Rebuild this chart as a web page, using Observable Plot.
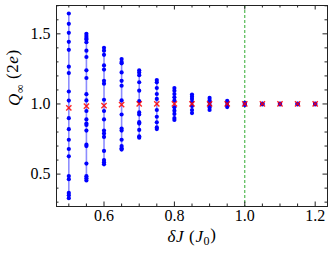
<!DOCTYPE html>
<html><head><meta charset="utf-8">
<script src="https://cdn.jsdelivr.net/npm/d3@7"></script>
<script src="https://cdn.jsdelivr.net/npm/@observablehq/plot@0.6"></script>
<style>body{margin:0;background:#fff}</style>
</head><body><div id="chart"></div>
<script>
// ---- data ----
const deltaJ = [0.5, 0.55, 0.6, 0.65, 0.7, 0.75, 0.8, 0.85, 0.9, 0.95, 1.0, 1.05, 1.1, 1.15, 1.2];
const q050 = [1.645, 1.571, 1.507, 1.443, 1.386, 1.266, 1.22, 1.089, 1.024, 0.899, 0.82, 0.745, 0.679, 0.627, 0.486, 0.464, 0.366, 0.349, 0.328];
const q055 = [1.50, 1.485, 1.47, 1.46, 1.44, 1.38, 1.335, 1.24, 1.185, 1.07, 1.025, 0.95, 0.89, 0.86, 0.85, 0.81, 0.71, 0.70, 0.575, 0.485, 0.47, 0.455];
const q060 = [1.40, 1.38, 1.35, 1.275, 1.245, 1.165, 1.145, 1.03, 0.95, 0.89, 0.81, 0.79, 0.765, 0.665, 0.60, 0.585, 0.57];
const q065 = [1.32, 1.30, 1.29, 1.225, 1.165, 1.13, 1.025, 0.925, 0.825, 0.81, 0.745, 0.70, 0.685, 0.675];
const q070 = [1.24, 1.225, 1.205, 1.155, 1.095, 1.02, 0.94, 0.925, 0.87, 0.86, 0.815, 0.77, 0.76];
const q075 = [1.171, 1.154, 1.114, 1.071, 1.036, 0.957, 0.909, 0.869, 0.833, 0.821];
const q080 = [1.114, 1.095, 1.071, 1.048, 1.024, 0.976, 0.952, 0.929, 0.90, 0.886];
const q085 = [1.067, 1.052, 1.036, 1.015, 0.985, 0.957, 0.935];
const q090 = [1.043, 1.025, 1.01, 0.99, 0.975, 0.957];
const q095 = [1.022, 1.01, 0.99, 0.978];
const q100 = [1.008, 1.0, 0.992];
const q105 = [1.003, 1.0, 0.997];
const q110 = [1.003, 1.0, 0.997];
const q115 = [1.003, 1.0, 0.997];
const q120 = [1.003, 1.0, 0.997];
const qColumns = [q050, q055, q060, q065, q070, q075, q080, q085, q090, q095, q100, q105, q110, q115, q120];
const qMean = [0.972, 0.984, 0.989, 0.995, 1.0, 1.0, 1.0, 1.0, 1.0, 1.0, 1.0, 1.0, 1.0, 1.0, 1.0];
const criticalJ = [1.0];

const xMajor = [0.6, 0.8, 1.0, 1.2];
const xMinor = [0.5, 0.55, 0.65, 0.7, 0.75, 0.85, 0.9, 0.95, 1.05, 1.1, 1.15];
const yMajor = [0.5, 1.0, 1.5];
const yMinor = [0.3, 0.4, 0.6, 0.7, 0.8, 0.9, 1.1, 1.2, 1.3, 1.4, 1.6, 1.7];
const xTitle = ["δJ (J0)"];
const yTitle = ["Q∞ (2e)"];

// ---- tables built from the arrays ----
const points = qColumns.flatMap((col, i) => col.map(q => ({x: deltaJ[i], q})));
const means = deltaJ.map((x, i) => ({x, q: qMean[i]}));

const W = 332, H = 257, mL = 56, mR = 5, mT = 5, mB = 51;
const plotW = W - mL - mR, plotH = H - mT - mB;
const maj = 4.5, mnr = 2.5, ink = "#222";
const serif = "Liberation Serif";
const fmt = d3.format(".1f");

const chart = Plot.plot({
  width: W, height: H,
  marginLeft: mL, marginRight: mR, marginTop: mT, marginBottom: mB,
  style: {background: "#fff", color: "#000"},
  x: {domain: [0.465, 1.235], axis: null},
  y: {domain: [0.269, 1.702], axis: null},
  marks: [
    Plot.ruleX(criticalJ, {x: d => d, stroke: "#17a017", strokeWidth: 0.9, strokeDasharray: "3,2"}),
    Plot.line(points, {x: "x", y: "q", z: "x", stroke: "#0000ff", strokeOpacity: 0.45, strokeWidth: 1.6}),
    Plot.dot(points, {x: "x", y: "q", r: 2.1, fill: "#0000ff"}),
    Plot.dot(means, {x: "x", y: "q", symbol: "times", r: 2.5, stroke: "#ff0000", strokeOpacity: 0.85, strokeWidth: 1.4}),
    // inward ticks on all four sides
    Plot.tickX(xMajor, {x: d => d, insetTop: plotH - maj, stroke: ink}),
    Plot.tickX(xMajor, {x: d => d, insetBottom: plotH - maj, stroke: ink}),
    Plot.tickX(xMinor, {x: d => d, insetTop: plotH - mnr, stroke: ink}),
    Plot.tickX(xMinor, {x: d => d, insetBottom: plotH - mnr, stroke: ink}),
    Plot.tickY(yMajor, {y: d => d, insetRight: plotW - maj, stroke: ink}),
    Plot.tickY(yMajor, {y: d => d, insetLeft: plotW - maj, stroke: ink}),
    Plot.tickY(yMinor, {y: d => d, insetRight: plotW - mnr, stroke: ink}),
    Plot.tickY(yMinor, {y: d => d, insetLeft: plotW - mnr, stroke: ink}),
    // tick labels
    Plot.text(xMajor, {x: d => d, frameAnchor: "bottom", dy: 14.5, text: fmt,
      fontFamily: serif, fontSize: 16, fill: "#000"}),
    Plot.text(yMajor, {y: d => d, frameAnchor: "left", dx: -6, textAnchor: "end", text: fmt,
      fontFamily: serif, fontSize: 16, fill: "#000"}),
    // axis titles
    Plot.text(xTitle, {frameAnchor: "bottom", dy: 35, text: d => d, fontFamily: serif, fontSize: 17,
      fill: "#000", className: "xtitle"}),
    Plot.text(yTitle, {frameAnchor: "left", dx: -42, rotate: -90, text: d => d, fontFamily: serif,
      fontSize: 17, fill: "#000", className: "ytitle"}),
    Plot.frame({stroke: ink, strokeWidth: 1})
  ]
});

// rich axis titles (italics and subscripts) kept as real text
const svg = d3.select(chart);
const xl = svg.select(".xtitle text");
xl.text(null).attr("letter-spacing", "0.6px");
xl.append("tspan").attr("font-style", "italic").text("δJ");
xl.append("tspan").text(" (");
xl.append("tspan").attr("font-style", "italic").text("J");
xl.append("tspan").attr("font-size", "12px").attr("dy", "0.3em").text("0");
xl.append("tspan").attr("dy", "-0.3em").text(")");
const yl = svg.select(".ytitle text");
yl.text(null).attr("letter-spacing", "0.6px");
yl.append("tspan").attr("font-style", "italic").text("Q");
yl.append("tspan").attr("font-size", "12px").attr("dy", "0.3em").text("∞");
yl.append("tspan").attr("dy", "-0.3em").text(" (2");
yl.append("tspan").attr("font-style", "italic").text("e");
yl.append("tspan").text(")");

document.getElementById("chart").appendChild(chart);
</script>
</body></html>
